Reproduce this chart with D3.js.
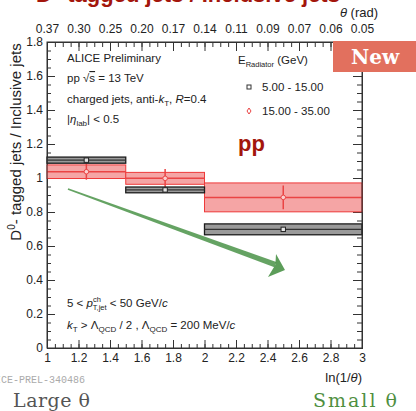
<!DOCTYPE html>
<html>
<head>
<meta charset="utf-8">
<script src="https://cdn.jsdelivr.net/npm/d3@7"></script>
<style>
  body { margin: 0; background: #fff; }
  svg { display: block; font-family: "Liberation Sans", Arial, sans-serif; }
  .axis path { stroke: #333; }
  .axis line { stroke: #333; }
  .axis text { font-size: 12px; fill: #222; font-family: "Liberation Sans", Arial, sans-serif; }
</style>
</head>
<body>
<div id="chart"></div>
<script>
const W = 416;
const H = 411;

// bins in ln(1/theta)
const binLo = [1, 1.5, 2];
const binHi = [1.5, 2, 3];
const binMid = [1.25, 1.75, 2.5];

// E_Radiator 5 - 15 GeV (black)
const lowVal = [1.105, 0.93, 0.698];
const lowSys = [0.018, 0.017, 0.032];
const lowStat = [0.01, 0.012, 0.014];

// E_Radiator 15 - 35 GeV (red)
const highVal = [1.037, 0.998, 0.886];
const highSys = [0.04, 0.035, 0.085];
const highStat = [0.047, 0.055, 0.07];

const xTicks = [1, 1.2, 1.4, 1.6, 1.8, 2, 2.2, 2.4, 2.6, 2.8, 3];
const yTicks = [0, 0.2, 0.4, 0.6, 0.8, 1, 1.2, 1.4, 1.6, 1.8];

// hand drawn arrow, in data coordinates
const arrowLine = [[1.133, 0.935], [2.45, 0.49]];
const arrowHead = [[2.454, 0.553], [2.511, 0.459], [2.403, 0.418], [2.45, 0.49]];

const x = d3.scaleLinear().domain([1, 3]).range([47, 362]);
const y = d3.scaleLinear().domain([0, 1.8]).range([348, 42]);

const svg = d3.select("#chart").append("svg")
    .attr("width", W)
    .attr("height", H);

// title (cut at the top, as in the slide)
svg.append("text")
    .attr("x", 188).attr("y", 1.5)
    .attr("text-anchor", "middle")
    .attr("font-size", 22).attr("font-weight", "bold")
    .attr("fill", "#a3160c")
    .text("D⁰-tagged jets / Inclusive jets");

// minor ticks
const minorX = d3.range(1, 3.001, 0.05);
const minorY = d3.range(0, 1.801, 0.05);

svg.append("g").attr("class", "axis").attr("transform", "translate(0,348)")
    .call(d3.axisBottom(x).tickValues(minorX).tickSize(-4).tickFormat(""));
svg.append("g").attr("class", "axis").attr("transform", "translate(0,42)")
    .call(d3.axisTop(x).tickValues(minorX).tickSize(-5).tickFormat(""));
svg.append("g").attr("class", "axis").attr("transform", "translate(47,0)")
    .call(d3.axisLeft(y).tickValues(minorY).tickSize(-4).tickFormat(""));
svg.append("g").attr("class", "axis").attr("transform", "translate(362,0)")
    .call(d3.axisRight(y).tickValues(minorY).tickSize(-5).tickFormat(""));

// major ticks
svg.append("g").attr("class", "axis").attr("transform", "translate(0,348)")
    .call(d3.axisBottom(x).tickValues(xTicks).tickSize(-8).tickPadding(5)
        .tickFormat(d => d3.format("~g")(d)));
svg.append("g").attr("class", "axis").attr("transform", "translate(0,42)")
    .call(d3.axisTop(x).tickValues(xTicks).tickSize(-9).tickPadding(9)
        .tickFormat(d => Math.exp(-d).toFixed(2)));
svg.append("g").attr("class", "axis").attr("transform", "translate(47,0)")
    .call(d3.axisLeft(y).tickValues(yTicks).tickSize(-8).tickPadding(4)
        .tickFormat(d => d3.format("~g")(d)));
svg.append("g").attr("class", "axis").attr("transform", "translate(362,0)")
    .call(d3.axisRight(y).tickValues(yTicks).tickSize(-9).tickFormat(""));

// red series
const red = svg.append("g");
binMid.forEach((m, i) => {
    red.append("rect")
        .attr("x", x(binLo[i])).attr("width", x(binHi[i]) - x(binLo[i]))
        .attr("y", y(highVal[i] + highSys[i]))
        .attr("height", y(highVal[i] - highSys[i]) - y(highVal[i] + highSys[i]))
        .attr("fill", "#f5a5a5").attr("stroke", "#ee3a3a").attr("stroke-width", 1);
    red.append("line")
        .attr("x1", x(binLo[i])).attr("x2", x(binHi[i]))
        .attr("y1", y(highVal[i])).attr("y2", y(highVal[i]))
        .attr("stroke", "#ea4444").attr("stroke-width", 1.5);
    red.append("line")
        .attr("x1", x(m)).attr("x2", x(m))
        .attr("y1", y(highVal[i] - highStat[i])).attr("y2", y(highVal[i] + highStat[i]))
        .attr("stroke", "#ea4444").attr("stroke-width", 1.5);
    red.append("circle")
        .attr("cx", x(m)).attr("cy", y(highVal[i])).attr("r", 2.3)
        .attr("fill", "#fbd0d0").attr("stroke", "#ea4444").attr("stroke-width", 1);
});

// black series
const blk = svg.append("g");
binMid.forEach((m, i) => {
    blk.append("rect")
        .attr("x", x(binLo[i])).attr("width", x(binHi[i]) - x(binLo[i]))
        .attr("y", y(lowVal[i] + lowSys[i]))
        .attr("height", y(lowVal[i] - lowSys[i]) - y(lowVal[i] + lowSys[i]))
        .attr("fill", "#9a9a9a").attr("stroke", "#1c1c1c").attr("stroke-width", 1.3);
    blk.append("line")
        .attr("x1", x(binLo[i])).attr("x2", x(binHi[i]))
        .attr("y1", y(lowVal[i])).attr("y2", y(lowVal[i]))
        .attr("stroke", "#333").attr("stroke-width", 1.3);
    blk.append("line")
        .attr("x1", x(m)).attr("x2", x(m))
        .attr("y1", y(lowVal[i] - lowStat[i])).attr("y2", y(lowVal[i] + lowStat[i]))
        .attr("stroke", "#111").attr("stroke-width", 1.5);
    blk.append("rect")
        .attr("x", x(m) - 2.2).attr("y", y(lowVal[i]) - 2.2)
        .attr("width", 4.4).attr("height", 4.4)
        .attr("fill", "#e5e5e5").attr("stroke", "#222").attr("stroke-width", 1);
});

// frame lines on top
svg.append("rect")
    .attr("x", 47).attr("y", 42).attr("width", 315).attr("height", 306)
    .attr("fill", "none").attr("stroke", "#333").attr("stroke-width", 1);

// green arrow
const p0 = [x(arrowLine[0][0]), y(arrowLine[0][1])];
const p1 = [x(arrowLine[1][0]), y(arrowLine[1][1])];
const len = Math.hypot(p1[0] - p0[0], p1[1] - p0[1]);
const nx = -(p1[1] - p0[1]) / len, ny = (p1[0] - p0[0]) / len;
const w0 = 0.8, w1 = 2.8;
const body = [
    [p0[0] + nx * w0, p0[1] + ny * w0],
    [p1[0] + nx * w1, p1[1] + ny * w1],
    [p1[0] - nx * w1, p1[1] - ny * w1],
    [p0[0] - nx * w0, p0[1] - ny * w0]
];
svg.append("path")
    .attr("d", d3.line()(body) + "Z")
    .attr("fill", "#3f8c3c").attr("opacity", 0.8);
svg.append("path")
    .attr("d", d3.line().x(d => x(d[0])).y(d => y(d[1]))(arrowHead) + "Z")
    .attr("fill", "#3f8c3c").attr("opacity", 0.85);

// New badge
svg.append("rect")
    .attr("x", 333).attr("y", 41).attr("width", 83).attr("height", 31)
    .attr("fill", "#e2705e");
svg.append("text")
    .attr("x", 375).attr("y", 64)
    .attr("text-anchor", "middle")
    .attr("font-family", "'DejaVu Serif', serif").attr("font-weight", "bold")
    .attr("font-size", 20).attr("fill", "#fff")
    .text("New");

// axis titles
svg.append("text")
    .attr("x", 378).attr("y", 17).attr("text-anchor", "end")
    .attr("font-size", 13).attr("fill", "#222")
    .html('<tspan font-style="italic">θ</tspan> (rad)');
svg.append("text")
    .attr("x", 362).attr("y", 382).attr("text-anchor", "end")
    .attr("font-size", 13).attr("fill", "#222")
    .html('ln(1/<tspan font-style="italic">θ</tspan>)');
svg.append("text")
    .attr("transform", "translate(21,142) rotate(-90)")
    .attr("text-anchor", "middle")
    .attr("font-size", 15).attr("fill", "#222")
    .html('D<tspan font-size="10" dy="-6">0</tspan><tspan dy="6">- tagged jets / Inclusive jets</tspan>');

// info texts
const info = svg.append("g").attr("font-size", 11.5).attr("fill", "#222");
info.append("text").attr("x", 67).attr("y", 62).text("ALICE Preliminary");
info.append("text").attr("x", 67).attr("y", 82)
    .html('pp <tspan>√</tspan><tspan text-decoration="overline">s</tspan> = 13 TeV');
info.append("text").attr("x", 67).attr("y", 103)
    .html('charged jets, anti-<tspan font-style="italic">k</tspan><tspan font-size="8" dy="3">T</tspan><tspan dy="-3">, </tspan><tspan font-style="italic">R</tspan>=0.4');
info.append("text").attr("x", 67).attr("y", 123)
    .html('|<tspan font-style="italic">η</tspan><tspan font-size="8" dy="3">lab</tspan><tspan dy="-3">| &lt; 0.5</tspan>');
info.append("text").attr("x", 67).attr("y", 307)
    .html('5 &lt; <tspan font-style="italic">p</tspan><tspan font-size="7.5" dy="-5">ch</tspan><tspan font-size="7.5" dx="-8" dy="8">T,jet</tspan><tspan dy="-3"> &lt; 50 GeV/</tspan><tspan font-style="italic">c</tspan>');
info.append("text").attr("x", 67).attr("y", 329)
    .html('<tspan font-style="italic">k</tspan><tspan font-size="8" dy="3">T</tspan><tspan dy="-3"> &gt; Λ</tspan><tspan font-size="8" dy="3">QCD</tspan><tspan dy="-3"> / 2 , Λ</tspan><tspan font-size="8" dy="3">QCD</tspan><tspan dy="-3"> = 200 MeV/</tspan><tspan font-style="italic">c</tspan>');

// legend
const leg = svg.append("g").attr("font-size", 11.5).attr("fill", "#222");
leg.append("text").attr("x", 238).attr("y", 64)
    .html('E<tspan font-size="7.5" dy="3">Radiator</tspan><tspan dy="-3"> (GeV)</tspan>');
leg.append("rect").attr("x", 247).attr("y", 85).attr("width", 4).attr("height", 4)
    .attr("fill", "none").attr("stroke", "#333").attr("stroke-width", 1);
leg.append("text").attr("x", 262).attr("y", 91).text("5.00 - 15.00");
leg.append("path").attr("d", "M249,108 L251,111 L249,114 L247,111 Z")
    .attr("fill", "none").attr("stroke", "#ea4444").attr("stroke-width", 1);
leg.append("text").attr("x", 262).attr("y", 115).text("15.00 - 35.00");

svg.append("text").attr("x", 238).attr("y", 151)
    .attr("font-size", 22).attr("font-weight", "bold").attr("fill", "#a3160c")
    .text("pp");

// footer (preliminary id, cut at the left edge as in the slide)
svg.append("text").attr("x", 85).attr("y", 383).attr("text-anchor", "end")
    .attr("font-family", "'Liberation Mono', monospace").attr("font-size", 10)
    .attr("fill", "#aaa")
    .text("ALICE-PREL-340486");
svg.append("text").attr("x", 13).attr("y", 407)
    .attr("font-family", "'DejaVu Serif', serif").attr("font-size", 19)
    .attr("fill", "#555").attr("textLength", 77)
    .text("Large θ");
svg.append("text").attr("x", 397).attr("y", 407).attr("text-anchor", "end")
    .attr("font-family", "'DejaVu Serif', serif").attr("font-size", 19)
    .attr("fill", "#4f8f3f").attr("textLength", 84)
    .text("Small θ");
</script>
</body>
</html>
